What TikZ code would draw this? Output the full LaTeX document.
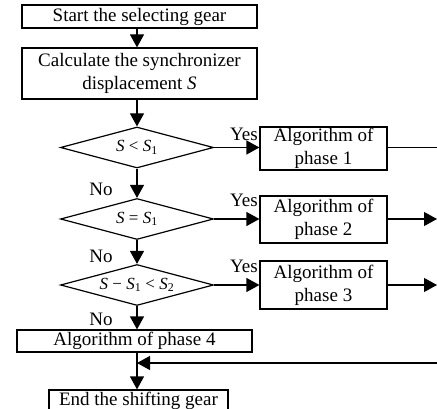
\documentclass[tikz,border=0pt]{standalone}
\usepackage{fontspec}
\setmainfont{Liberation Serif}
\usetikzlibrary{arrows.meta,shapes.geometric}
\begin{document}
\begin{tikzpicture}[x=1pt,y=-1pt,
  every node/.style={font=\fontsize{19}{23}\selectfont, inner sep=0pt},
  box/.style={draw, line width=1.2pt, align=center},
  dec/.style={draw, line width=1.2pt, diamond, aspect=3.7, minimum width=153pt, minimum height=41pt, font=\fontsize{17}{20}\selectfont},
  conn/.style={line width=1.2pt},
  arr/.style={conn, -{Triangle[length=13pt,width=14pt]}},
  lbl/.style={font=\fontsize{19}{20}\selectfont}]
\useasboundingbox (0,0) rectangle (437,409);
\clip (0,0) rectangle (437,409);
\node[box, minimum width=235pt, minimum height=23pt] (start) at (139.5,16.5) {Start the selecting gear};
\node[box, minimum width=235pt, minimum height=51pt] (calc) at (139.5,73.5) {Calculate the synchronizer\\displacement \textit{S}};
\node[dec] (d1) at (137,147.5) {\textit{S} < \textit{S}\textsubscript{1}};
\node[dec] (d2) at (137,219) {\textit{S} = \textit{S}\textsubscript{1}};
\node[dec] (d3) at (137,285) {\textit{S} − \textit{S}\textsubscript{1} < \textit{S}\textsubscript{2}};
\node[box, minimum width=127pt, minimum height=43pt] (p1) at (323.5,148.5) {Algorithm of\\phase 1};
\node[box, minimum width=127pt, minimum height=47pt] (p2) at (323.5,219.5) {Algorithm of\\phase 2};
\node[box, minimum width=127pt, minimum height=48pt] (p3) at (323.5,285) {Algorithm of\\phase 3};
\node[box, minimum width=235pt, minimum height=22pt] (p4) at (134.5,341) {Algorithm of phase 4};
\node[box, minimum width=179pt, minimum height=22pt] (end) at (138.5,401) {\raisebox{3pt}{End the shifting gear}};
\coordinate (r1) at (437,147.5);
\coordinate (r2) at (437,219);
\coordinate (r3) at (437,285);
\coordinate (r4) at (437,363);
\coordinate (j) at (137,363);
\draw[arr] (start.south -| d1) -- (calc.north -| d1);
\draw[arr] (calc.south -| d1) -- (d1);
\draw[arr] (d1) -- (d2);
\draw[arr] (d2) -- (d3);
\draw[arr] (d3.south) -- (d3.south |- p4.north);
\draw[arr] (d1) -- (d1 -| p1.west);
\draw[arr] (d2) -- (d2 -| p2.west);
\draw[arr] (d3) -- (d3 -| p3.west);
\draw[conn] (p1.east |- r1) -- (r1);
\draw[arr] (p2.east |- r2) -- (r2);
\draw[arr] (p3.east |- r3) -- (r3);
\draw[conn] (p4.south -| j) -- (j);
\draw[arr] (r4) -- (j);
\draw[arr] (j) -- (j |- end.north);
\node[lbl] at (244,134) {Yes};
\node[lbl] at (244,200) {Yes};
\node[lbl] at (244,266) {Yes};
\node[lbl] at (101,189) {No};
\node[lbl] at (101,256) {No};
\node[lbl] at (101,319) {No};
\end{tikzpicture}
\end{document}
